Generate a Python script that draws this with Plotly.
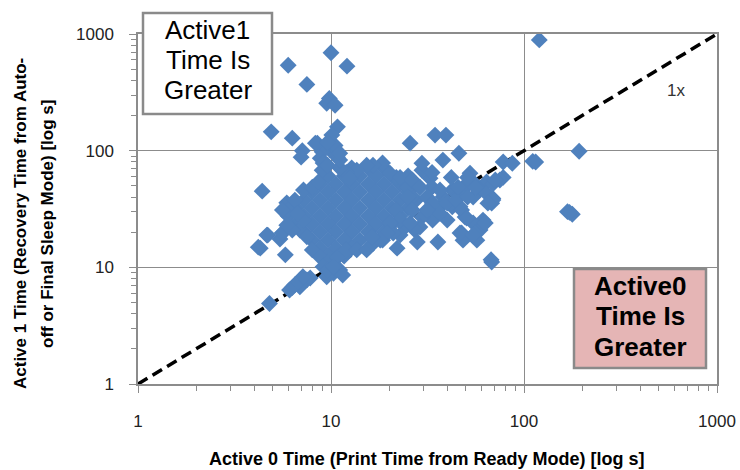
import plotly.graph_objects as go

# Active 0 time (x) and Active 1 time (y), seconds
outlier_x = [6.0, 10.0, 12.1, 7.5, 9.8, 9.5, 10.5, 10.8, 4.9, 6.3, 7.1, 7.0, 8.3, 4.4, 120, 25.7, 34.6, 39.4,
             46, 38, 29.6, 111, 115, 193, 168, 178, 42, 78, 87, 69, 65, 68, 22, 28, 35.8, 48.3, 57,
             4.8, 6.3, 6.9, 7.5, 7.8, 4.3, 5.8, 11.5, 9.6, 4.7, 5.6, 6.3, 5.9, 7.15, 6.5,
             10.1, 9.6, 33.4, 4.2, 4.65, 6.1, 10.3, 172, 67.5, 46.6, 54.5]
outlier_y = [540, 690, 530, 370, 280, 255, 245, 160, 145, 128, 100, 88, 116, 45, 890, 116, 136, 136,
             95, 83, 78, 81, 80, 99, 30, 28.5, 59, 80, 78, 37.7, 35.5, 11.1, 14.6, 16.5, 16.5, 17.1, 17.1,
             4.9, 6.7, 6.8, 7.8, 8.1, 14.6, 12.8, 8.6, 9.5, 18.9, 19.7, 20.9, 23, 8.3, 7.1,
             136, 118, 65, 14.9, 18.9, 6.4, 10.1, 29.6, 11.6, 19.7, 18.9]

edge_x = [78, 61.3, 54.5, 59.2, 49.5, 46.6, 42.5, 54.5, 64, 52.5, 48, 59, 75, 42.5, 38, 36.7, 40, 33.6, 35.3,
          29.6, 28.9, 27.2, 24.2, 22.8, 32.6, 29.6, 33.4, 36.7, 26.4, 25, 21.8, 18.5, 16.5, 15.3, 13.6, 12,
          12.5, 11.1, 10.8, 11.1, 9.9, 9.5, 9, 8.8, 10.5, 11.1, 8.5, 9.1, 9, 9.6,
          7.2, 8, 8.6, 5.9, 6, 6.5, 5.6, 5.6, 6.3, 5.44, 6.9, 7.5, 8, 7.2, 6.7,
          8.8, 9.6, 9.1, 10.8, 12, 13.6, 15.3, 16.5, 18.5, 21, 11.1, 10.3, 9.5,
          20.2, 22.8, 26.4, 28.9, 25, 31.4, 33.6, 40, 46.6, 54.5, 64, 69, 50.5, 44.5, 36.7, 31.4, 21.8,
          22.8, 20.2, 19.6, 18, 16.3, 25.7, 26.4, 51, 47.5, 50.5, 68, 63, 47.5, 56, 51, 45.5, 71, 56, 69]
edge_y = [59, 25.4, 24, 20.9, 27, 33, 33, 54, 54, 64, 46, 46, 56, 46, 40, 33, 25.4, 25.4, 31,
          27, 22.2, 20.9, 22.2, 18.9, 58, 68, 48.6, 46, 40, 48.6, 59, 78.5, 75, 75, 68, 65,
          58, 71, 88, 83, 101, 111, 98, 86, 111, 95, 116, 78.5, 68, 75,
          46, 48.6, 54, 35.7, 31, 37.7, 31, 19.7, 21.7, 17.5, 20.9, 18.3, 14.1, 25.4, 29,
          12.2, 11.1, 10.1, 12.2, 14.1, 14.1, 14.1, 16, 17.1, 19.7, 9.5, 8.9, 8.3,
          64, 59, 56, 48.6, 40, 40, 35.5, 35.5, 43, 40, 43, 52, 52, 37.7, 29, 31, 31,
          25.4, 24, 19.7, 17.1, 18.2, 24, 31, 40, 31, 26.5, 35.5, 24, 19.7, 19.7, 59, 48.6, 56, 48.6, 39]

core_x = [12.8, 15.6, 18.8,
          9.65, 11.7, 14.1, 17.1, 20.7, 25.1,
          8.77, 10.6, 12.8, 15.6, 18.8, 22.8, 27.6,
          7.97, 9.65, 11.7, 14.1, 17.1, 20.7, 25.1,
          7.25, 8.77, 10.6, 12.8, 15.6, 18.8, 22.8, 27.6,
          6.6, 7.97, 9.65, 11.7, 14.1, 17.1, 20.7, 25.1,
          6.0, 7.25, 8.77, 10.6, 12.8, 15.6, 18.8, 22.8,
          6.6, 7.97, 9.65, 11.7, 14.1, 17.1, 20.7,
          7.25, 8.77, 10.6, 12.8, 15.6, 18.8,
          7.97, 9.65, 11.7, 14.1, 17.1,
          8.77, 10.6, 12.8,
          9.65, 11.7]
core_y = [71.0, 71.0, 71.0,
          60.6, 60.6, 60.6, 60.6, 60.6, 60.6,
          51.7, 51.7, 51.7, 51.7, 51.7, 51.7, 51.7,
          44.2, 44.2, 44.2, 44.2, 44.2, 44.2, 44.2,
          37.7, 37.7, 37.7, 37.7, 37.7, 37.7, 37.7, 37.7,
          32.2, 32.2, 32.2, 32.2, 32.2, 32.2, 32.2, 32.2,
          27.5, 27.5, 27.5, 27.5, 27.5, 27.5, 27.5, 27.5,
          23.5, 23.5, 23.5, 23.5, 23.5, 23.5, 23.5,
          20.1, 20.1, 20.1, 20.1, 20.1, 20.1,
          17.1, 17.1, 17.1, 17.1, 17.1,
          14.6, 14.6, 14.6,
          12.5, 12.5]

parity_x = [1, 1000]
parity_y = [1, 1000]

tick_vals = [1, 10, 100, 1000]
tick_text = ["1", "10", "100", "1000"]
minor_vals = [m * d for d in (1, 10, 100) for m in range(2, 10)]

x_title = "Active 0 Time (Print Time from Ready Mode) [log s]"
y_title_1 = "Active 1 Time (Recovery Time from Auto-"
y_title_2 = "off or Final Sleep Mode) [log s]"
box1_lines = ["Active1", "Time Is", "Greater"]
box2_lines = ["Active0", "Time Is", "Greater"]

blue = "#4F81BD"
grid = "#8c8c8c"

# plot area in pixels: left 138, right 717, top 34, bottom 384
L, R, T, B = 138, 717, 34, 384
def px(xp):
    return (xp - L) / (R - L)
def py(yp):
    return (B - yp) / (B - T)

fig = go.Figure()
fig.add_trace(go.Scatter(x=parity_x, y=parity_y, mode="lines",
                         line=dict(color="black", width=3.5, dash="11px,6px"),
                         hoverinfo="skip"))
fig.add_trace(go.Scatter(x=core_x + edge_x + outlier_x, y=core_y + edge_y + outlier_y,
                         mode="markers",
                         marker=dict(symbol="diamond", size=13, color=blue, line=dict(width=0))))

axis_common = dict(type="log", range=[0, 3], tickmode="array", tickvals=tick_vals, ticktext=tick_text,
                   showgrid=True, gridcolor=grid, gridwidth=1, showline=True, mirror=True,
                   linecolor=grid, linewidth=1.5, ticks="outside", ticklen=7, tickcolor=grid,
                   tickfont=dict(family="Liberation Sans, Arial", size=17, color="#222"),
                   zeroline=False, automargin=False,
                   minor=dict(tickmode="array", tickvals=minor_vals, ticks="outside", ticklen=5,
                              tickcolor=grid, showgrid=False))

fig.update_layout(
    width=740, height=470,
    margin=dict(l=L, r=740 - R, t=T, b=470 - B),
    paper_bgcolor="white", plot_bgcolor="white",
    showlegend=False,
    xaxis=dict(axis_common, ticklabelstandoff=14),
    yaxis=dict(axis_common, ticklabelstandoff=12),
)

fig.add_shape(type="rect", xref="paper", yref="paper", x0=px(143), x1=px(272), y0=py(114), y1=py(13),
              line=dict(color="#8a8a8a", width=2.5), fillcolor="white", layer="above")
for text, yc in zip(box1_lines, [30, 60, 90]):
    fig.add_annotation(xref="paper", yref="paper", x=px(207.5), y=py(yc), text=text,
                       showarrow=False, font=dict(family="Liberation Sans, Arial", size=26, color="black"),
                       xanchor="center", yanchor="middle")
fig.add_shape(type="rect", xref="paper", yref="paper", x0=px(574), x1=px(706), y0=py(368), y1=py(269),
              line=dict(color="#8a8a8a", width=2.5), fillcolor="#E5B5B5", layer="above")
for text, yc in zip(box2_lines, [286, 316, 347]):
    fig.add_annotation(xref="paper", yref="paper", x=px(640), y=py(yc), text="<b>" + text + "</b>",
                       showarrow=False, font=dict(family="Liberation Sans, Arial", size=26, color="black"),
                       xanchor="center", yanchor="middle")
fig.add_annotation(xref="paper", yref="paper", x=px(687), y=py(79), text="1x", showarrow=False,
                   font=dict(family="Liberation Sans, Arial", size=17, color="#333"))

fig.add_annotation(xref="paper", yref="paper", x=px(426), y=py(459), text="<b>" + x_title + "</b>",
                   showarrow=False, font=dict(family="Liberation Sans, Arial", size=18, color="black"),
                   xanchor="center", yanchor="middle")
fig.add_annotation(xref="paper", yref="paper", x=px(20), y=py(224), text="<b>" + y_title_1 + "</b>",
                   textangle=-90, showarrow=False,
                   font=dict(family="Liberation Sans, Arial", size=17, color="black"),
                   xanchor="center", yanchor="middle")
fig.add_annotation(xref="paper", yref="paper", x=px(47), y=py(224), text="<b>" + y_title_2 + "</b>",
                   textangle=-90, showarrow=False,
                   font=dict(family="Liberation Sans, Arial", size=17, color="black"),
                   xanchor="center", yanchor="middle")

fig.write_html("out.html")
